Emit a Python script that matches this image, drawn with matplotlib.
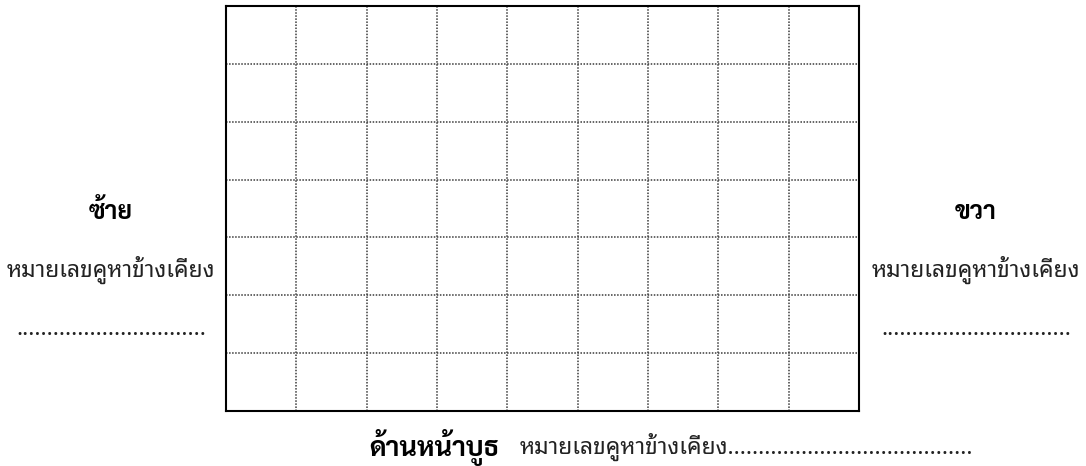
import matplotlib.pyplot as plt
from matplotlib import font_manager
import matplotlib.patheffects as pe

# --- grid layout (booth floor plan) ---
n_cols = 9
n_rows = 7
col_lines = list(range(1, n_cols))
row_lines = list(range(1, n_rows))

left_title = "ซ้าย"
right_title = "ขวา"
side_label = "หมายเลขคูหาข้างเคียง"
side_dots = "." * 31
front_title = "ด้านหน้าบูธ"
front_label = "หมายเลขคูหาข้างเคียง" + "." * 40

# pick installed Thai-capable families
thai_candidates = ['Noto Sans Thai Looped', 'Noto Sans Thai', 'Sarabun', 'Anuphan']
ttf = font_manager.fontManager.ttflist
installed = {f.name for f in ttf}
thai_fonts = [n for n in thai_candidates if n in installed]
bold_fonts = [n for n in thai_fonts
              if any(f.name == n and f.weight in ('bold', 700, 800, 900) or
                     (f.name == n and isinstance(f.weight, int) and f.weight >= 700) for f in ttf)]
plt.rcParams['font.family'] = thai_fonts[:1] + ['DejaVu Sans']
bold_family = (bold_fonts[:1] or thai_fonts[:1]) + ['DejaVu Sans']
bold_fx = [] if bold_fonts else [pe.withStroke(linewidth=1.0, foreground='black')]

fig = plt.figure(figsize=(10.86, 4.66), dpi=100)
fig.patch.set_facecolor('white')
ax = fig.add_axes([226 / 1086, 55 / 466, 633 / 1086, 405 / 466])
ax.set_xlim(0, n_cols)
ax.set_ylim(0, n_rows)

for x in col_lines:
    ax.axvline(x, color='#3a3a3a', ls=(0, (1, 1)), lw=1.1)
for y in row_lines:
    ax.axhline(y, color='#3a3a3a', ls=(0, (1, 1)), lw=1.1)

ax.set_xticks([])
ax.set_yticks([])
for spine in ax.spines.values():
    spine.set_edgecolor('black')
    spine.set_linewidth(1.5)


def fx(px):
    return px / 1086


def fy(py):
    return 1 - py / 466


for cx, title in [(111, left_title), (976, right_title)]:
    fig.text(fx(cx), fy(213), title, ha='center', va='center', fontsize=18,
             fontweight='bold', family=bold_family, path_effects=bold_fx)
    fig.text(fx(cx), fy(270), side_label, ha='center', va='center', fontsize=16.5, color='#222222')
    fig.text(fx(cx), fy(329), side_dots, ha='center', va='center', fontsize=16.5, color='#222222')

fig.text(fx(500), fy(447), front_title, ha='right', va='center', fontsize=19.5,
         fontweight='bold', family=bold_family, path_effects=bold_fx)
fig.text(fx(520), fy(447), front_label, ha='left', va='center', fontsize=16.5, color='#222222')

fig.savefig('out.png', dpi=100)
